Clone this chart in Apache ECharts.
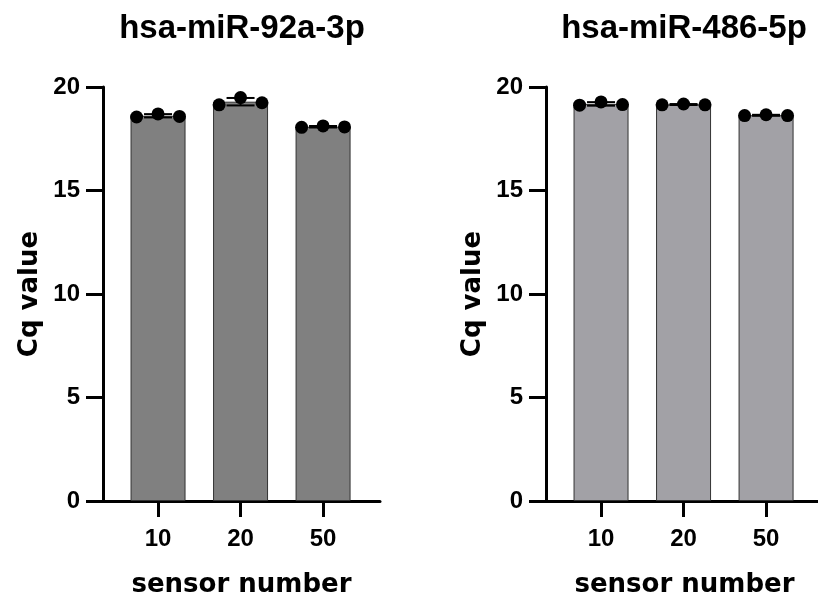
<!DOCTYPE html>
<html>
<head>
<meta charset="utf-8">
<script src="https://cdn.jsdelivr.net/npm/echarts@6/dist/echarts.min.js"></script>
<style>
  html, body { margin: 0; padding: 0; background: #fff; }
  #chart { width: 818px; height: 599px; }
</style>
</head>
<body>
<div id="chart"></div>
<script>
// categories (sensor number)
const categories = ['10', '20', '50']
// Cq replicates, one list per category
const mir92aValues = [
  [18.55, 18.70, 18.58],
  [19.14, 19.49, 19.24],
  [18.05, 18.12, 18.07]
]
const mir486Values = [
  [19.12, 19.28, 19.15],
  [19.14, 19.18, 19.14],
  [18.62, 18.66, 18.62]
]
const yTicks = [0, 5, 10, 15, 20]
const titles = ['hsa-miR-92a-3p', 'hsa-miR-486-5p']

const boldFont = "'Liberation Sans', Arial, sans-serif"
const nameFont = "'DejaVu Sans', sans-serif"
const jitter = [-0.26, 0, 0.26]

function mean(arr) {
  return arr.reduce((a, b) => a + b, 0) / arr.length
}
function sd(arr) {
  const m = mean(arr)
  return Math.sqrt(arr.reduce((a, b) => a + (b - m) * (b - m), 0) / (arr.length - 1))
}

function makeSeries(values, idx, fill) {
  const bars = values.map((v, i) => [i, mean(v)])
  const errs = values.map((v, i) => [i, mean(v) - sd(v), mean(v) + sd(v)])
  const pts = []
  values.forEach((v, i) => v.forEach((y, j) => pts.push([i + jitter[j], y])))
  return [
    {
      type: 'bar',
      xAxisIndex: idx, yAxisIndex: idx,
      barWidth: 55,
      data: bars,
      itemStyle: { color: fill, borderColor: '#333', borderWidth: 1 },
      silent: true
    },
    {
      type: 'custom',
      xAxisIndex: idx, yAxisIndex: idx,
      data: errs,
      z: 3,
      renderItem: function (params, api) {
        const lo = api.coord([api.value(0), api.value(1)])
        const hi = api.coord([api.value(0), api.value(2)])
        const w = 14
        const st = { stroke: '#000', lineWidth: 2 }
        return {
          type: 'group',
          children: [
            { type: 'line', shape: { x1: lo[0], y1: lo[1], x2: hi[0], y2: hi[1] }, style: st },
            { type: 'line', shape: { x1: hi[0] - w, y1: hi[1], x2: hi[0] + w, y2: hi[1] }, style: st },
            { type: 'line', shape: { x1: lo[0] - w, y1: lo[1], x2: lo[0] + w, y2: lo[1] }, style: st }
          ]
        }
      }
    },
    {
      type: 'scatter',
      xAxisIndex: idx, yAxisIndex: idx,
      data: pts,
      symbolSize: 13,
      itemStyle: { color: '#000', opacity: 1 },
      z: 4,
      silent: true
    }
  ]
}

function makeXAxis(idx) {
  return {
    type: 'value',
    gridIndex: idx,
    min: -0.667,
    max: 2.69,
    splitLine: { show: false },
    axisLine: { onZero: false, lineStyle: { color: '#000', width: 3 } },
    axisTick: { show: true, customValues: [0, 1, 2], length: 16, lineStyle: { color: '#000', width: 3 } },
    axisLabel: {
      customValues: [0, 1, 2],
      formatter: (v) => categories[Math.round(v)],
      margin: 26,
      color: '#000',
      fontFamily: boldFont,
      fontWeight: 'bold',
      fontSize: 24
    },
    name: 'sensor number',
    nameLocation: 'middle',
    nameGap: 71,
    nameTextStyle: { color: '#000', fontFamily: nameFont, fontWeight: 'bold', fontSize: 26 }
  }
}

function makeYAxis(idx) {
  return {
    type: 'value',
    gridIndex: idx,
    min: yTicks[0],
    max: yTicks[yTicks.length - 1],
    interval: 5,
    splitLine: { show: false },
    axisLine: { show: true, onZero: false, lineStyle: { color: '#000', width: 3 } },
    axisTick: { show: true, length: 17, lineStyle: { color: '#000', width: 3 } },
    axisLabel: {
      margin: 23,
      color: '#000',
      fontFamily: boldFont,
      fontWeight: 'bold',
      fontSize: 24
    },
    name: 'Cq value',
    nameLocation: 'middle',
    nameGap: 60,
    nameTextStyle: { color: '#000', fontFamily: nameFont, fontWeight: 'bold', fontSize: 26 }
  }
}

const chart = echarts.init(document.getElementById('chart'))
chart.setOption({
  backgroundColor: '#fff',
  animation: false,
  title: [
    {
      text: titles[0], left: 242, top: 12, padding: 0, textAlign: 'center',
      textStyle: { color: '#000', fontFamily: boldFont, fontWeight: 'bold', fontSize: 33 }
    },
    {
      text: titles[1], left: 684, top: 12, padding: 0, textAlign: 'center',
      textStyle: { color: '#000', fontFamily: boldFont, fontWeight: 'bold', fontSize: 33 }
    }
  ],
  grid: [
    { left: 103, top: 87, width: 277, height: 414, outerBoundsMode: 'none' },
    { left: 546, top: 87, width: 277, height: 414, outerBoundsMode: 'none' }
  ],
  xAxis: [makeXAxis(0), makeXAxis(1)],
  yAxis: [makeYAxis(0), makeYAxis(1)],
  series: [
    ...makeSeries(mir92aValues, 0, '#808080'),
    ...makeSeries(mir486Values, 1, '#a2a1a6')
  ]
})
</script>
</body>
</html>
